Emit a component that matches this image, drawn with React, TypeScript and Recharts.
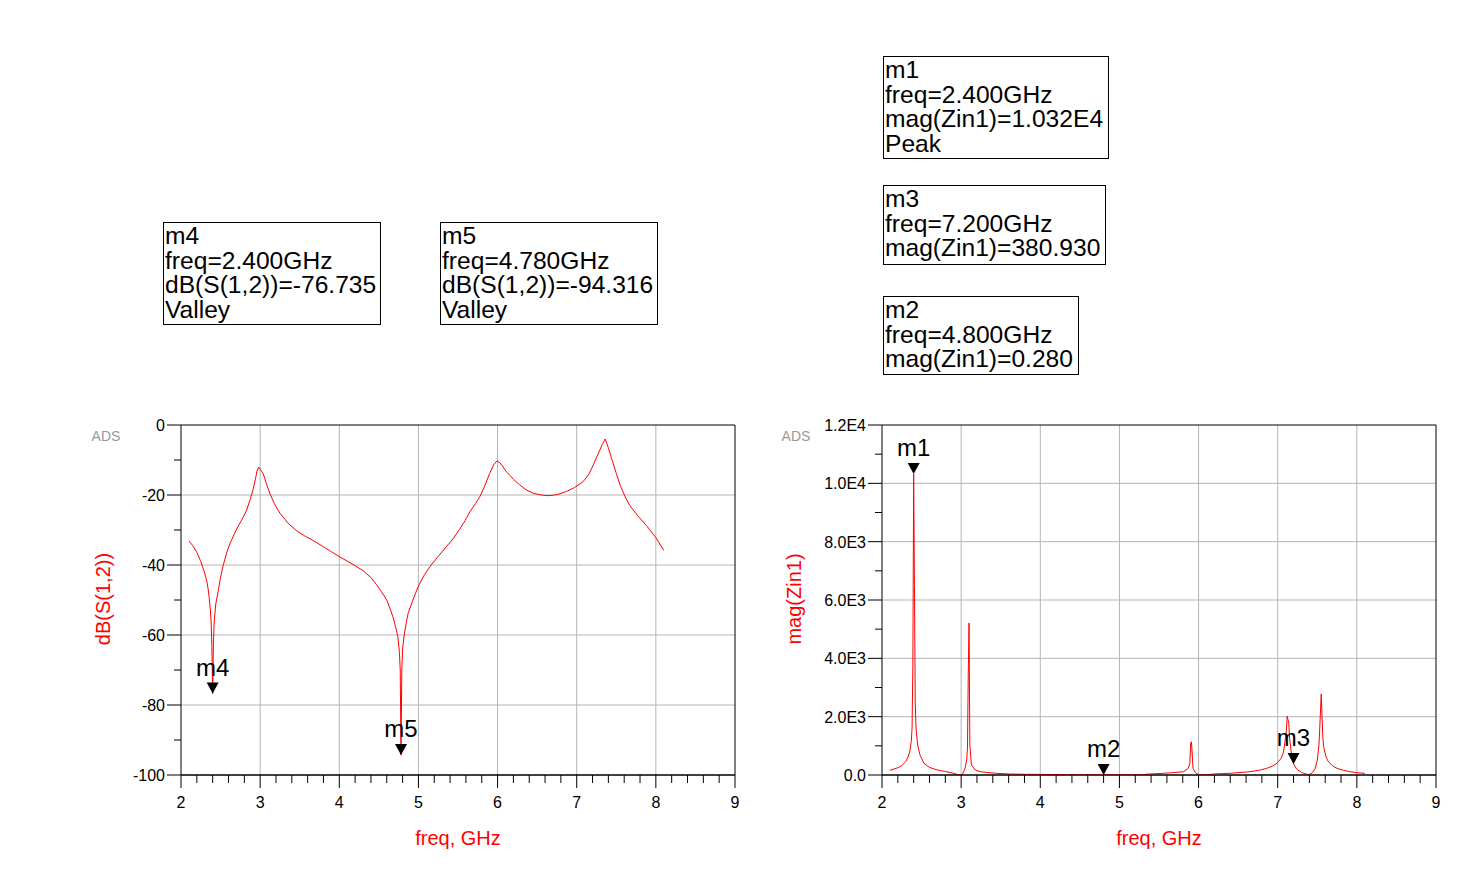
import React from "react";
import {
  LineChart,
  Line,
  XAxis,
  YAxis,
  CartesianGrid,
  ReferenceDot,
  ReferenceArea,
  ReferenceLine,
} from "recharts";

// left panel: dB(S(1,2)) vs freq
const s12Freq = [
  2.1, 2.15, 2.2, 2.25, 2.3, 2.33, 2.35, 2.37, 2.38, 2.39, 2.4, 2.41, 2.42, 2.44, 2.47, 2.5, 2.54, 2.58,
  2.62, 2.67, 2.72, 2.78, 2.83, 2.87, 2.91, 2.94, 2.96, 2.98, 3.0, 3.04, 3.08, 3.12, 3.18, 3.25, 3.35,
  3.46, 3.57, 3.67, 3.8, 3.9, 4.0, 4.1, 4.2, 4.3, 4.4, 4.47, 4.53, 4.6, 4.65, 4.68, 4.71, 4.74, 4.76,
  4.77, 4.78, 4.79, 4.8, 4.82, 4.85, 4.87, 4.93, 5.0, 5.07, 5.15, 5.25, 5.36, 5.44, 5.52, 5.59, 5.65,
  5.72, 5.78, 5.84, 5.9, 5.95, 5.99, 6.03, 6.07, 6.11, 6.2, 6.28, 6.36, 6.45, 6.55, 6.65, 6.75, 6.87,
  6.97, 7.08, 7.15, 7.21, 7.27, 7.32, 7.36, 7.4, 7.44, 7.5, 7.55, 7.61, 7.67, 7.77, 7.88, 8.0, 8.1,
];
const s12dB = [
  -33.1, -34.5, -36.4, -39.0, -42.3, -45.0, -48.0, -52.5, -56.0, -63.0, -76.735, -62.0, -56.0, -51.0,
  -47.5, -43.5, -39.5, -36.3, -33.8, -31.3, -29.0, -26.6, -24.3, -21.5, -18.5, -15.5, -13.2, -12.0,
  -12.6, -14.0, -16.8, -19.4, -22.5, -25.2, -28.0, -30.2, -31.8, -33.0, -34.8, -36.2, -37.6, -38.9,
  -40.2, -41.6, -43.6, -45.6, -47.5, -50.0, -53.0, -55.0, -57.5, -60.5, -65.0, -70.0, -94.316, -70.0,
  -64.0, -60.0, -56.0, -53.8, -50.0, -46.0, -43.0, -40.3, -37.5, -34.6, -32.4, -29.8, -27.3, -24.8,
  -22.5, -20.3, -17.3, -13.8, -11.4, -10.3, -10.8, -12.0, -13.3, -15.5, -17.1, -18.5, -19.5, -20.0,
  -20.2, -19.9, -19.0, -17.9, -16.2, -14.2, -11.4, -8.3, -5.7, -4.0, -6.5, -9.5, -13.8, -17.3, -20.4,
  -23.0, -25.9, -28.7, -32.2, -35.8,
];

// right panel: mag(Zin1) vs freq
const zinFreq = [
  2.1, 2.2, 2.25, 2.3, 2.33, 2.35, 2.37, 2.38, 2.39, 2.4, 2.41, 2.42, 2.43, 2.45, 2.48, 2.53, 2.6, 2.7,
  2.8, 2.9, 2.97, 3.0, 3.02, 3.05, 3.07, 3.08, 3.09, 3.1, 3.11, 3.13, 3.18, 3.24, 3.35, 3.45, 3.6, 3.8,
  4.0, 4.25, 4.3, 4.6, 5.0, 5.3, 5.35, 5.5, 5.68, 5.81, 5.87, 5.89, 5.9, 5.91, 5.92, 5.93, 5.96, 5.98,
  6.02, 6.1, 6.19, 6.3, 6.4, 6.55, 6.65, 6.78, 6.86, 6.93, 6.99, 7.04, 7.07, 7.09, 7.11, 7.12, 7.13,
  7.14, 7.15, 7.17, 7.2, 7.24, 7.3, 7.35, 7.39, 7.43, 7.47, 7.5, 7.52, 7.53, 7.55, 7.56, 7.57, 7.58,
  7.61, 7.64, 7.7, 7.75, 7.83, 7.91, 8.0, 8.1,
];
const zinMag = [
  160, 250, 320, 460, 620, 800, 1150, 1600, 3770, 10320, 6500, 2470, 1610, 1030, 690, 400, 260, 170,
  120, 60, 10, 2, 40, 230, 520, 900, 3500, 5210, 1030, 340, 170, 114, 80, 57, 35, 25, 20, 15, 4, 3, 3,
  4, 30, 50, 80, 114, 230, 400, 1090, 1140, 690, 230, 80, 40, 2, 5, 34, 50, 60, 90, 114, 170, 229, 300,
  400, 560, 743, 1100, 1540, 2020, 1900, 1770, 1260, 800, 380.93, 200, 90, 40, 15, 60, 200, 500, 1000,
  1540, 2780, 2000, 1300, 970, 620, 457, 300, 229, 160, 114, 80, 57,
];

const xTicks = [
  2, 2.2, 2.4, 2.6, 2.8, 3, 3.2, 3.4, 3.6, 3.8, 4, 4.2, 4.4, 4.6, 4.8, 5, 5.2, 5.4, 5.6, 5.8, 6, 6.2,
  6.4, 6.6, 6.8, 7, 7.2, 7.4, 7.6, 7.8, 8, 8.2, 8.4, 8.6, 8.8, 9,
];
const xGrid = [3, 4, 5, 6, 7, 8];
const s12Ticks = [-100, -90, -80, -70, -60, -50, -40, -30, -20, -10, 0];
const s12Grid = [-20, -40, -60, -80];
const zinTicks = [0, 1000, 2000, 3000, 4000, 5000, 6000, 7000, 8000, 9000, 10000, 11000, 12000];
const zinGrid = [2000, 4000, 6000, 8000, 10000];
const zinLabels: Record<number, string> = {
  0: "0.0",
  2000: "2.0E3",
  4000: "4.0E3",
  6000: "6.0E3",
  8000: "8.0E3",
  10000: "1.0E4",
  12000: "1.2E4",
};

const s12Markers = [
  { name: "m4", f: 2.4, v: -76.735 },
  { name: "m5", f: 4.78, v: -94.316 },
];
const zinMarkers = [
  { name: "m1", f: 2.4, v: 10320 },
  { name: "m2", f: 4.8, v: 0.28 },
  { name: "m3", f: 7.2, v: 380.93 },
];

const markerBoxes = [
  { left: 163, top: 222, w: 218, h: 103, lines: ["m4", "freq=2.400GHz", "dB(S(1,2))=-76.735", "Valley"] },
  { left: 440, top: 222, w: 218, h: 103, lines: ["m5", "freq=4.780GHz", "dB(S(1,2))=-94.316", "Valley"] },
  { left: 883, top: 56, w: 226, h: 103, lines: ["m1", "freq=2.400GHz", "mag(Zin1)=1.032E4", "Peak"] },
  { left: 883, top: 185, w: 223, h: 80, lines: ["m3", "freq=7.200GHz", "mag(Zin1)=380.930"] },
  { left: 883, top: 296, w: 196, h: 79, lines: ["m2", "freq=4.800GHz", "mag(Zin1)=0.280"] },
];

const FONT = "'Liberation Sans', Arial, sans-serif";

const s12Data = s12Freq.map((f, i) => ({ f, v: s12dB[i] }));
const zinData = zinFreq.map((f, i) => ({ f, v: zinMag[i] }));

function XTick(props: any) {
  const { x, y, payload } = props;
  const val = payload.value;
  const major = Math.abs(val - Math.round(val)) < 1e-6;
  return (
    <g>
      <line x1={x} x2={x} y1={y} y2={y + (major ? 13 : 8)} stroke="#000" strokeWidth={1} />
      {major && (
        <text x={x} y={y + 33} textAnchor="middle" fontSize={16} fontFamily={FONT} fill="#000">
          {Math.round(val)}
        </text>
      )}
    </g>
  );
}

function makeYTick(majorStep: number, fmt: (v: number) => string) {
  return function YTick(props: any) {
    const { x, y, payload } = props;
    const val = payload.value;
    const major = Math.abs(val % majorStep) < 1e-6;
    return (
      <g>
        <line x1={x - (major ? 14 : 7)} x2={x} y1={y} y2={y} stroke="#000" strokeWidth={1} />
        {major && (
          <text x={x - 16} y={y + 6} textAnchor="end" fontSize={16} fontFamily={FONT} fill="#000">
            {fmt(val)}
          </text>
        )}
      </g>
    );
  };
}

const S12YTick = makeYTick(20, (v) => String(v));
const ZinYTick = makeYTick(2000, (v) => zinLabels[v] ?? "");

function markerShape(name: string) {
  return function Shape(props: any) {
    const { cx, cy } = props;
    return (
      <g>
        <polygon points={`${cx},${cy} ${cx - 6},${cy - 11} ${cx + 6},${cy - 11}`} fill="#000" />
        <text x={cx} y={cy - 18} textAnchor="middle" fontSize={24} fontFamily={FONT} fill="#000">
          {name}
        </text>
      </g>
    );
  };
}

function Panel(props: {
  left: number;
  data: { f: number; v: number }[];
  domain: [number, number];
  yTicks: number[];
  yGrid: number[];
  yTick: (p: any) => React.ReactElement;
  markers: { name: string; f: number; v: number }[];
}) {
  const { left, data, domain, yTicks, yGrid, yTick, markers } = props;
  return (
    <div style={{ position: "absolute", left, top: 400 }}>
      <LineChart width={760} height={483} data={data} margin={{ top: 25, right: 25, bottom: 48, left: 81 }}>
        <CartesianGrid stroke="#b4b4b4" strokeWidth={1} horizontalValues={yGrid} verticalValues={xGrid} />
        <XAxis
          dataKey="f"
          type="number"
          domain={[2, 9]}
          ticks={xTicks}
          interval={0}
          tick={<XTick />}
          tickLine={false}
          axisLine={false}
          tickSize={0}
          tickMargin={0}
          height={60}
        />
        <YAxis
          type="number"
          domain={domain}
          ticks={yTicks}
          interval={0}
          tick={yTick}
          tickLine={false}
          axisLine={false}
          tickSize={0}
          tickMargin={0}
          width={100}
          allowDataOverflow
        />
        <Line
          dataKey="v"
          type="linear"
          stroke="#ff0000"
          strokeWidth={1}
          dot={false}
          activeDot={false}
          isAnimationActive={false}
        />
        <ReferenceLine y={domain[0]} stroke="#000" strokeWidth={1} />
        <ReferenceArea x1={2} x2={9} y1={domain[0]} y2={domain[1]} fill="none" fillOpacity={0} stroke="#000" strokeWidth={1} />
        {markers.map((m) => (
          <ReferenceDot key={m.name} x={m.f} y={m.v} r={0} shape={markerShape(m.name)} ifOverflow="visible" />
        ))}
      </LineChart>
    </div>
  );
}

export default function App() {
  return (
    <div
      style={{
        position: "absolute",
        left: 0,
        top: 0,
        width: 1461,
        height: 883,
        background: "#fff",
        fontFamily: FONT,
        overflow: "hidden",
      }}
    >
      {markerBoxes.map((b, i) => (
        <div
          key={i}
          style={{
            position: "absolute",
            left: b.left,
            top: b.top,
            width: b.w,
            height: b.h,
            boxSizing: "border-box",
            border: "1px solid #000",
            padding: "1px 0 0 1px",
            fontSize: 24.6,
            lineHeight: "24.7px",
            color: "#000",
            whiteSpace: "nowrap",
          }}
        >
          {b.lines.map((l, j) => (
            <div key={j}>{l}</div>
          ))}
        </div>
      ))}

      <Panel
        left={0}
        data={s12Data}
        domain={[-100, 0]}
        yTicks={s12Ticks}
        yGrid={s12Grid}
        yTick={S12YTick}
        markers={s12Markers}
      />
      <Panel
        left={701}
        data={zinData}
        domain={[0, 12000]}
        yTicks={zinTicks}
        yGrid={zinGrid}
        yTick={ZinYTick}
        markers={zinMarkers}
      />

      {[106, 796].map((x) => (
        <div
          key={x}
          style={{
            position: "absolute",
            left: x - 20,
            top: 428,
            width: 40,
            textAlign: "center",
            fontSize: 14,
            color: "#999",
          }}
        >
          ADS
        </div>
      ))}
      {[
        { x: 103, t: "dB(S(1,2))" },
        { x: 794, t: "mag(Zin1)" },
      ].map((l) => (
        <div
          key={l.t}
          style={{
            position: "absolute",
            left: l.x - 100,
            top: 599 - 12,
            width: 200,
            height: 24,
            lineHeight: "24px",
            textAlign: "center",
            fontSize: 20,
            color: "#ff0000",
            transform: "rotate(-90deg)",
          }}
        >
          {l.t}
        </div>
      ))}
      {[458, 1159].map((x) => (
        <div
          key={x}
          style={{
            position: "absolute",
            left: x - 100,
            top: 826,
            width: 200,
            lineHeight: "24px",
            textAlign: "center",
            fontSize: 20,
            color: "#ff0000",
          }}
        >
          freq, GHz
        </div>
      ))}
    </div>
  );
}
